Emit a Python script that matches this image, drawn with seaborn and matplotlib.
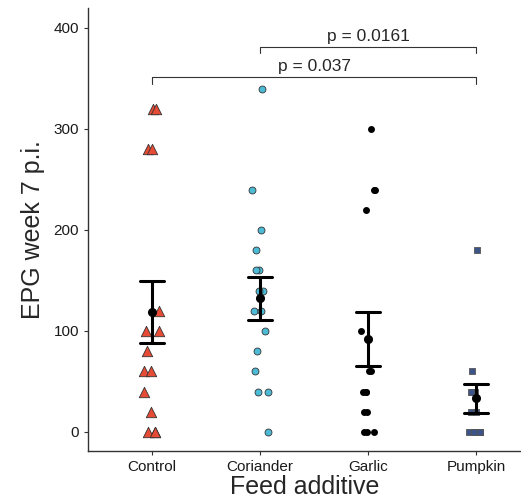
import numpy as np
import pandas as pd
import seaborn as sns
import matplotlib.pyplot as plt

# EPG counts per feed additive
groups = ['Control', 'Coriander', 'Garlic', 'Pumpkin']
control = [320, 320, 280, 280, 120, 100, 100, 80, 60, 60, 40, 20, 0, 0, 0]
coriander = [340, 240, 200, 180, 160, 160, 140, 140, 120, 120, 100, 80, 60, 40, 40, 0]
garlic = [300, 240, 240, 220, 100, 60, 60, 40, 40, 40, 20, 20, 0, 0, 0]
pumpkin = [180, 60, 40, 40, 40, 20, 20, 0, 0, 0, 0, 0]

# pairwise comparisons shown as brackets
comp_left = ['Coriander', 'Control']
comp_right = ['Pumpkin', 'Pumpkin']
comp_y = [381, 351]
comp_label = ['p = 0.0161', 'p = 0.037']

df = pd.DataFrame({
    'group': (['Control'] * len(control) + ['Coriander'] * len(coriander)
              + ['Garlic'] * len(garlic) + ['Pumpkin'] * len(pumpkin)),
    'epg': control + coriander + garlic + pumpkin,
})

sns.set_style('ticks')
plt.rcParams['font.family'] = ['Liberation Sans', 'DejaVu Sans']

fig = plt.figure(figsize=(5.21, 4.98), dpi=100)
ax = fig.add_axes([0.169, 0.0944, 0.831, 0.8896])

np.random.seed(3)
styles = {
    'Control': dict(marker='^', color='#E64B35', size=7.5, edgecolor='#333333', linewidth=0.6),
    'Coriander': dict(marker='o', color='#4DBBD5', size=5, edgecolor='#333333', linewidth=0.6),
    'Garlic': dict(marker='o', color='black', size=5, edgecolor='black', linewidth=0),
    'Pumpkin': dict(marker='s', color='#3C5488', size=4.3, edgecolor='#555555', linewidth=0.6),
}
for g in groups:
    sns.stripplot(data=df[df['group'] == g], x='group', y='epg', order=groups,
                  jitter=0.08, ax=ax, zorder=2, **styles[g])

# mean +/- standard error
sns.pointplot(data=df, x='group', y='epg', order=groups, errorbar='se',
              color='black', linestyle='none', capsize=0.22, markersize=4.5,
              err_kws={'linewidth': 2.2}, ax=ax)
for line in ax.lines:
    line.set_zorder(3)

# significance brackets
for left, right, y, lab in zip(comp_left, comp_right, comp_y, comp_label):
    x1, x2 = groups.index(left), groups.index(right)
    ax.plot([x1, x1, x2, x2], [y - 6, y, y, y - 6], color='#333333', linewidth=0.8)
    ax.text((x1 + x2) / 2, y + 3, lab, ha='center', va='bottom', fontsize=12.5)

ax.set_xlim(-0.593, 3.417)
ax.set_ylim(-18.8, 419.8)
ax.set_yticks([0, 100, 200, 300, 400])
ax.set_xlabel('Feed additive', fontsize=18, labelpad=1)
ax.set_ylabel('EPG week 7 p.i.', fontsize=18, labelpad=6)
ax.tick_params(axis='both', labelsize=11, length=3, color='#333333', labelcolor='#1a1a1a')
sns.despine(ax=ax)
for s in ['left', 'bottom']:
    ax.spines[s].set_color('#333333')
    ax.spines[s].set_linewidth(1)

fig.savefig('out.png', dpi=100)
